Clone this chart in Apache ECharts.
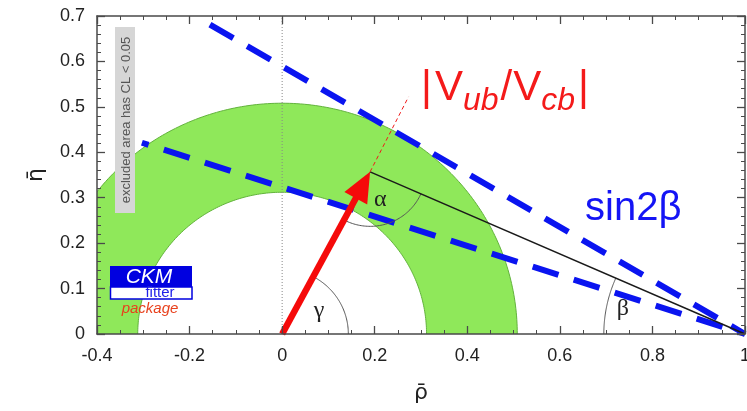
<!DOCTYPE html>
<html>
<head>
<meta charset="utf-8">
<script src="https://cdn.jsdelivr.net/npm/echarts@6/dist/echarts.min.js"></script>
<style>
  html, body { margin: 0; padding: 0; background: #fff; }
  #chart { width: 747px; height: 411px; }
</style>
</head>
<body>
<div id="chart"></div>
<script>
// Unitarity triangle in the (rho-bar, eta-bar) plane with CKMfitter-style constraints
const xRange = [-0.4, 1];
const yRange = [0, 0.7];
const xTickStep = 0.2;
const yTickStep = 0.1;

const apex = [0.19, 0.357];                       // (rho-bar, eta-bar) apex
const base = [1, 0];
const origin = [0, 0];
const ringRadii = [0.312, 0.508];                 // |Vub/Vcb| band: inner, outer radius
const vubDirection = [[0.19, 0.357], [0.273, 0.522]];
const sin2betaUpper = [[-0.156, 0.681], [1, 0]];
const sin2betaLower = [[-0.303, 0.421], [1, 0]];
const triangleSide = [[0.19, 0.357], [1, 0]];
const zeroLine = [[0, 0], [0, 0.7]];
const arcRadii = [0.143, 0.12, 0.305];            // gamma, alpha, beta
const angleNames = ['γ', 'α', 'β'];
const angleLabelPos = [[0.080, 0.051], [0.212, 0.295], [0.736, 0.055]];

const SANS = '"Liberation Sans", Arial, Helvetica, sans-serif';
const NAMEFONT = '"DejaVu Sans", "Noto Sans", sans-serif';
const SERIF = '"Liberation Serif", "Times New Roman", serif';

const angleArcs = [
  { c: origin, r: arcRadii[0], from: 0, to: Math.atan2(apex[1], apex[0]) },
  { c: apex, r: arcRadii[1], from: Math.atan2(origin[1] - apex[1], origin[0] - apex[0]),
    to: Math.atan2(base[1] - apex[1], base[0] - apex[0]) },
  { c: base, r: arcRadii[2], from: Math.atan2(apex[1] - base[1], apex[0] - base[0]), to: Math.PI }
];

function arcPts(api, c, r, a0, a1, n) {
  const pts = [];
  for (let i = 0; i <= n; i++) {
    const t = a0 + (a1 - a0) * i / n;
    pts.push(api.coord([c[0] + r * Math.cos(t), c[1] + r * Math.sin(t)]));
  }
  return pts;
}

const chart = echarts.init(document.getElementById('chart'), null, { renderer: 'canvas' });

const axisLineStyle = { color: '#4a4a4a', width: 1.5 };
function makeAxis(extra) {
  return Object.assign({
    type: 'value',
    z: 10,
    splitLine: { show: false },
    axisLine: { show: true, onZero: false, lineStyle: axisLineStyle },
    axisTick: { show: true, inside: true, length: 8, lineStyle: { color: '#4a4a4a', width: 1.3 } },
    minorSplitLine: { show: false }
  }, extra);
}

const tickFmt = v => String(+(+v).toFixed(1));

// Label "|Vub/Vcb|" built from pieces laid out along a common baseline
const measureCtx = document.createElement('canvas').getContext('2d');
function textWidth(t, size, italic) {
  measureCtx.font = (italic ? 'italic ' : '') + size + 'px ' + SANS;
  return measureCtx.measureText(t).width;
}
const vubPieces = [
  ['|', 42, false, 0, 3], ['V', 42, false, 0, 0], ['ub', 32, true, 9, 2],
  ['/', 42, false, 0, 1], ['V', 42, false, 0, 0], ['cb', 32, true, 9, 3], ['|', 42, false, 0, 0]
];
const vubGraphics = [];
(function () {
  let x = 421;
  const baseline = 103;
  vubPieces.forEach(([t, size, italic, drop, gapAfter]) => {
    vubGraphics.push({
      type: 'text', x: x, y: baseline + drop - 0.3465 * size, z: 20,
      style: {
        text: t, fill: '#f41a1a', fontSize: size, fontFamily: SANS,
        fontStyle: italic ? 'italic' : 'normal', align: 'left', verticalAlign: 'middle'
      }
    });
    x += textWidth(t, size, italic) + gapAfter;
  });
})();

const option = {
  animation: false,
  backgroundColor: '#ffffff',
  grid: { left: 97, right: 2, top: 16, bottom: 77, outerBoundsMode: 'none', containLabel: false },
  xAxis: [
    makeAxis({
      min: xRange[0], max: xRange[1], interval: xTickStep, position: 'bottom',
      minorTick: { show: true, splitNumber: 4, length: 4, lineStyle: { color: '#4a4a4a', width: 1 } },
      axisLabel: { margin: 13, fontSize: 18, color: '#222', fontFamily: SANS, formatter: tickFmt },
      name: 'ρ\u0304', nameLocation: 'middle', nameGap: 48,
      nameTextStyle: { fontSize: 22, color: '#222', fontFamily: NAMEFONT }
    }),
    makeAxis({
      min: xRange[0], max: xRange[1], interval: xTickStep, position: 'top',
      minorTick: { show: true, splitNumber: 4, length: 4, lineStyle: { color: '#4a4a4a', width: 1 } },
      axisLabel: { show: false }
    })
  ],
  yAxis: [
    makeAxis({
      min: yRange[0], max: yRange[1], interval: yTickStep, position: 'left',
      minorTick: { show: true, splitNumber: 5, length: 4, lineStyle: { color: '#4a4a4a', width: 1 } },
      axisLabel: { margin: 12, fontSize: 18, color: '#222', fontFamily: SANS, formatter: tickFmt },
      name: 'η\u0304', nameLocation: 'middle', nameGap: 50, nameRotate: 90,
      nameTextStyle: { fontSize: 22, color: '#222', fontFamily: NAMEFONT }
    }),
    makeAxis({
      min: yRange[0], max: yRange[1], interval: yTickStep, position: 'right',
      minorTick: { show: true, splitNumber: 5, length: 4, lineStyle: { color: '#4a4a4a', width: 1 } },
      axisLabel: { show: false }
    })
  ],
  series: [
    {
      // |Vub/Vcb| annulus
      type: 'custom', name: 'Vub/Vcb band', clip: true, z: 1, silent: true,
      data: [[ringRadii[0], ringRadii[1]]],
      renderItem: function (params, api) {
        const rin = api.value(0), rout = api.value(1);
        const outer = arcPts(api, origin, rout, 0, Math.PI, 200);
        const inner = arcPts(api, origin, rin, Math.PI, 0, 200);
        return {
          type: 'group',
          children: [
            { type: 'polygon', shape: { points: outer.concat(inner) }, style: { fill: '#8fe85a' } },
            { type: 'polyline', shape: { points: outer }, style: { stroke: '#62b33c', lineWidth: 1, fill: null } },
            { type: 'polyline', shape: { points: inner }, style: { stroke: '#62b33c', lineWidth: 1, fill: null } }
          ]
        };
      }
    },
    {
      type: 'line', name: 'rho = 0', data: zeroLine, symbol: 'none', z: 2, silent: true,
      lineStyle: { color: '#888', width: 1, type: [1, 2] }
    },
    {
      type: 'line', name: 'sin2beta upper', data: sin2betaUpper, symbol: 'none', z: 4, silent: true,
      lineStyle: { color: '#0a14f0', width: 6, type: [27, 16], cap: 'butt' }
    },
    {
      type: 'line', name: 'sin2beta lower', data: sin2betaLower, symbol: 'none', z: 4, silent: true,
      lineStyle: { color: '#0a14f0', width: 6, type: [27, 16], cap: 'butt', dashOffset: 20 }
    },
    {
      type: 'line', name: 'triangle side', data: triangleSide, symbol: 'none', z: 5, silent: true,
      lineStyle: { color: '#1a1a1a', width: 1.5 }
    },
    {
      type: 'line', name: 'Vub direction', data: vubDirection, symbol: 'none', z: 5, silent: true,
      lineStyle: { color: '#f01a1a', width: 1, type: [4, 3] }
    },
    {
      // angle arcs at the three vertices
      type: 'custom', name: 'angles', clip: true, z: 5, silent: true,
      data: angleArcs.map((a, i) => [i]),
      renderItem: function (params, api) {
        const a = angleArcs[params.dataIndex];
        return {
          type: 'polyline',
          shape: { points: arcPts(api, a.c, a.r, a.from, a.to, 60) },
          style: { stroke: '#555', lineWidth: 1, fill: null }
        };
      }
    },
    {
      // angle names
      type: 'custom', name: 'angle names', z: 6, silent: true,
      data: angleLabelPos,
      renderItem: function (params, api) {
        const p = api.coord([api.value(0), api.value(1)]);
        return {
          type: 'text', x: p[0], y: p[1],
          style: {
            text: angleNames[params.dataIndex], fill: '#222', fontSize: 24,
            fontFamily: SERIF, align: 'center', verticalAlign: 'middle'
          }
        };
      }
    },
    {
      // red arrow from the origin to the apex
      type: 'custom', name: 'Vub arrow', z: 8, silent: true,
      data: [[origin[0], origin[1], apex[0], apex[1]]],
      renderItem: function (params, api) {
        const p0 = api.coord([api.value(0), api.value(1)]);
        const p1 = api.coord([api.value(2), api.value(3)]);
        const dx = p1[0] - p0[0], dy = p1[1] - p0[1];
        const L = Math.hypot(dx, dy);
        const ux = dx / L, uy = dy / L, nx = -uy, ny = ux;
        const headLen = 30, headHalf = 13;
        const bx = p1[0] - ux * headLen, by = p1[1] - uy * headLen;
        return {
          type: 'group',
          children: [
            { type: 'line', shape: { x1: p0[0], y1: p0[1], x2: bx + ux * 4, y2: by + uy * 4 },
              style: { stroke: '#f50a0a', lineWidth: 6.5 } },
            { type: 'polygon', shape: { points: [p1, [bx + nx * headHalf, by + ny * headHalf], [bx - nx * headHalf, by - ny * headHalf]] },
              style: { fill: '#f50a0a' } }
          ]
        };
      }
    }
  ],
  graphic: [
    // exclusion note
    { type: 'rect', z: 20, shape: { x: 115, y: 27, width: 20, height: 186 }, style: { fill: '#d6d6d6' } },
    { type: 'text', z: 21, x: 126, y: 120, rotation: Math.PI / 2,
      style: { text: 'excluded area has CL < 0.05', fill: '#555', fontSize: 13, fontFamily: SANS,
               align: 'center', verticalAlign: 'middle' } },
    // CKMfitter logo
    { type: 'rect', z: 20, shape: { x: 110, y: 266, width: 82, height: 21 }, style: { fill: '#0000e0' } },
    { type: 'rect', z: 20, shape: { x: 110.5, y: 287, width: 81.5, height: 12 },
      style: { fill: '#ffffff', stroke: '#0000e0', lineWidth: 1.5 } },
    { type: 'text', z: 21, x: 149, y: 277, style: { text: 'CKM', fill: '#ffffff', fontSize: 21, fontStyle: 'italic',
      fontFamily: SANS, align: 'center', verticalAlign: 'middle' } },
    { type: 'text', z: 21, x: 160, y: 293, style: { text: 'fitter', fill: '#2020e8', fontSize: 15,
      fontFamily: SANS, align: 'center', verticalAlign: 'middle' } },
    { type: 'text', z: 21, x: 150, y: 309, style: { text: 'package', fill: '#e8401c', fontSize: 15, fontStyle: 'italic',
      fontFamily: SANS, align: 'center', verticalAlign: 'middle' } },
    // constraint names
    { type: 'text', z: 20, x: 585, y: 223 - 0.3465 * 40, style: { text: 'sin2β', fill: '#1414f5', fontSize: 40,
      fontFamily: SANS, align: 'left', verticalAlign: 'middle' } }
  ].concat(vubGraphics)
};

chart.setOption(option);
</script>
</body>
</html>
